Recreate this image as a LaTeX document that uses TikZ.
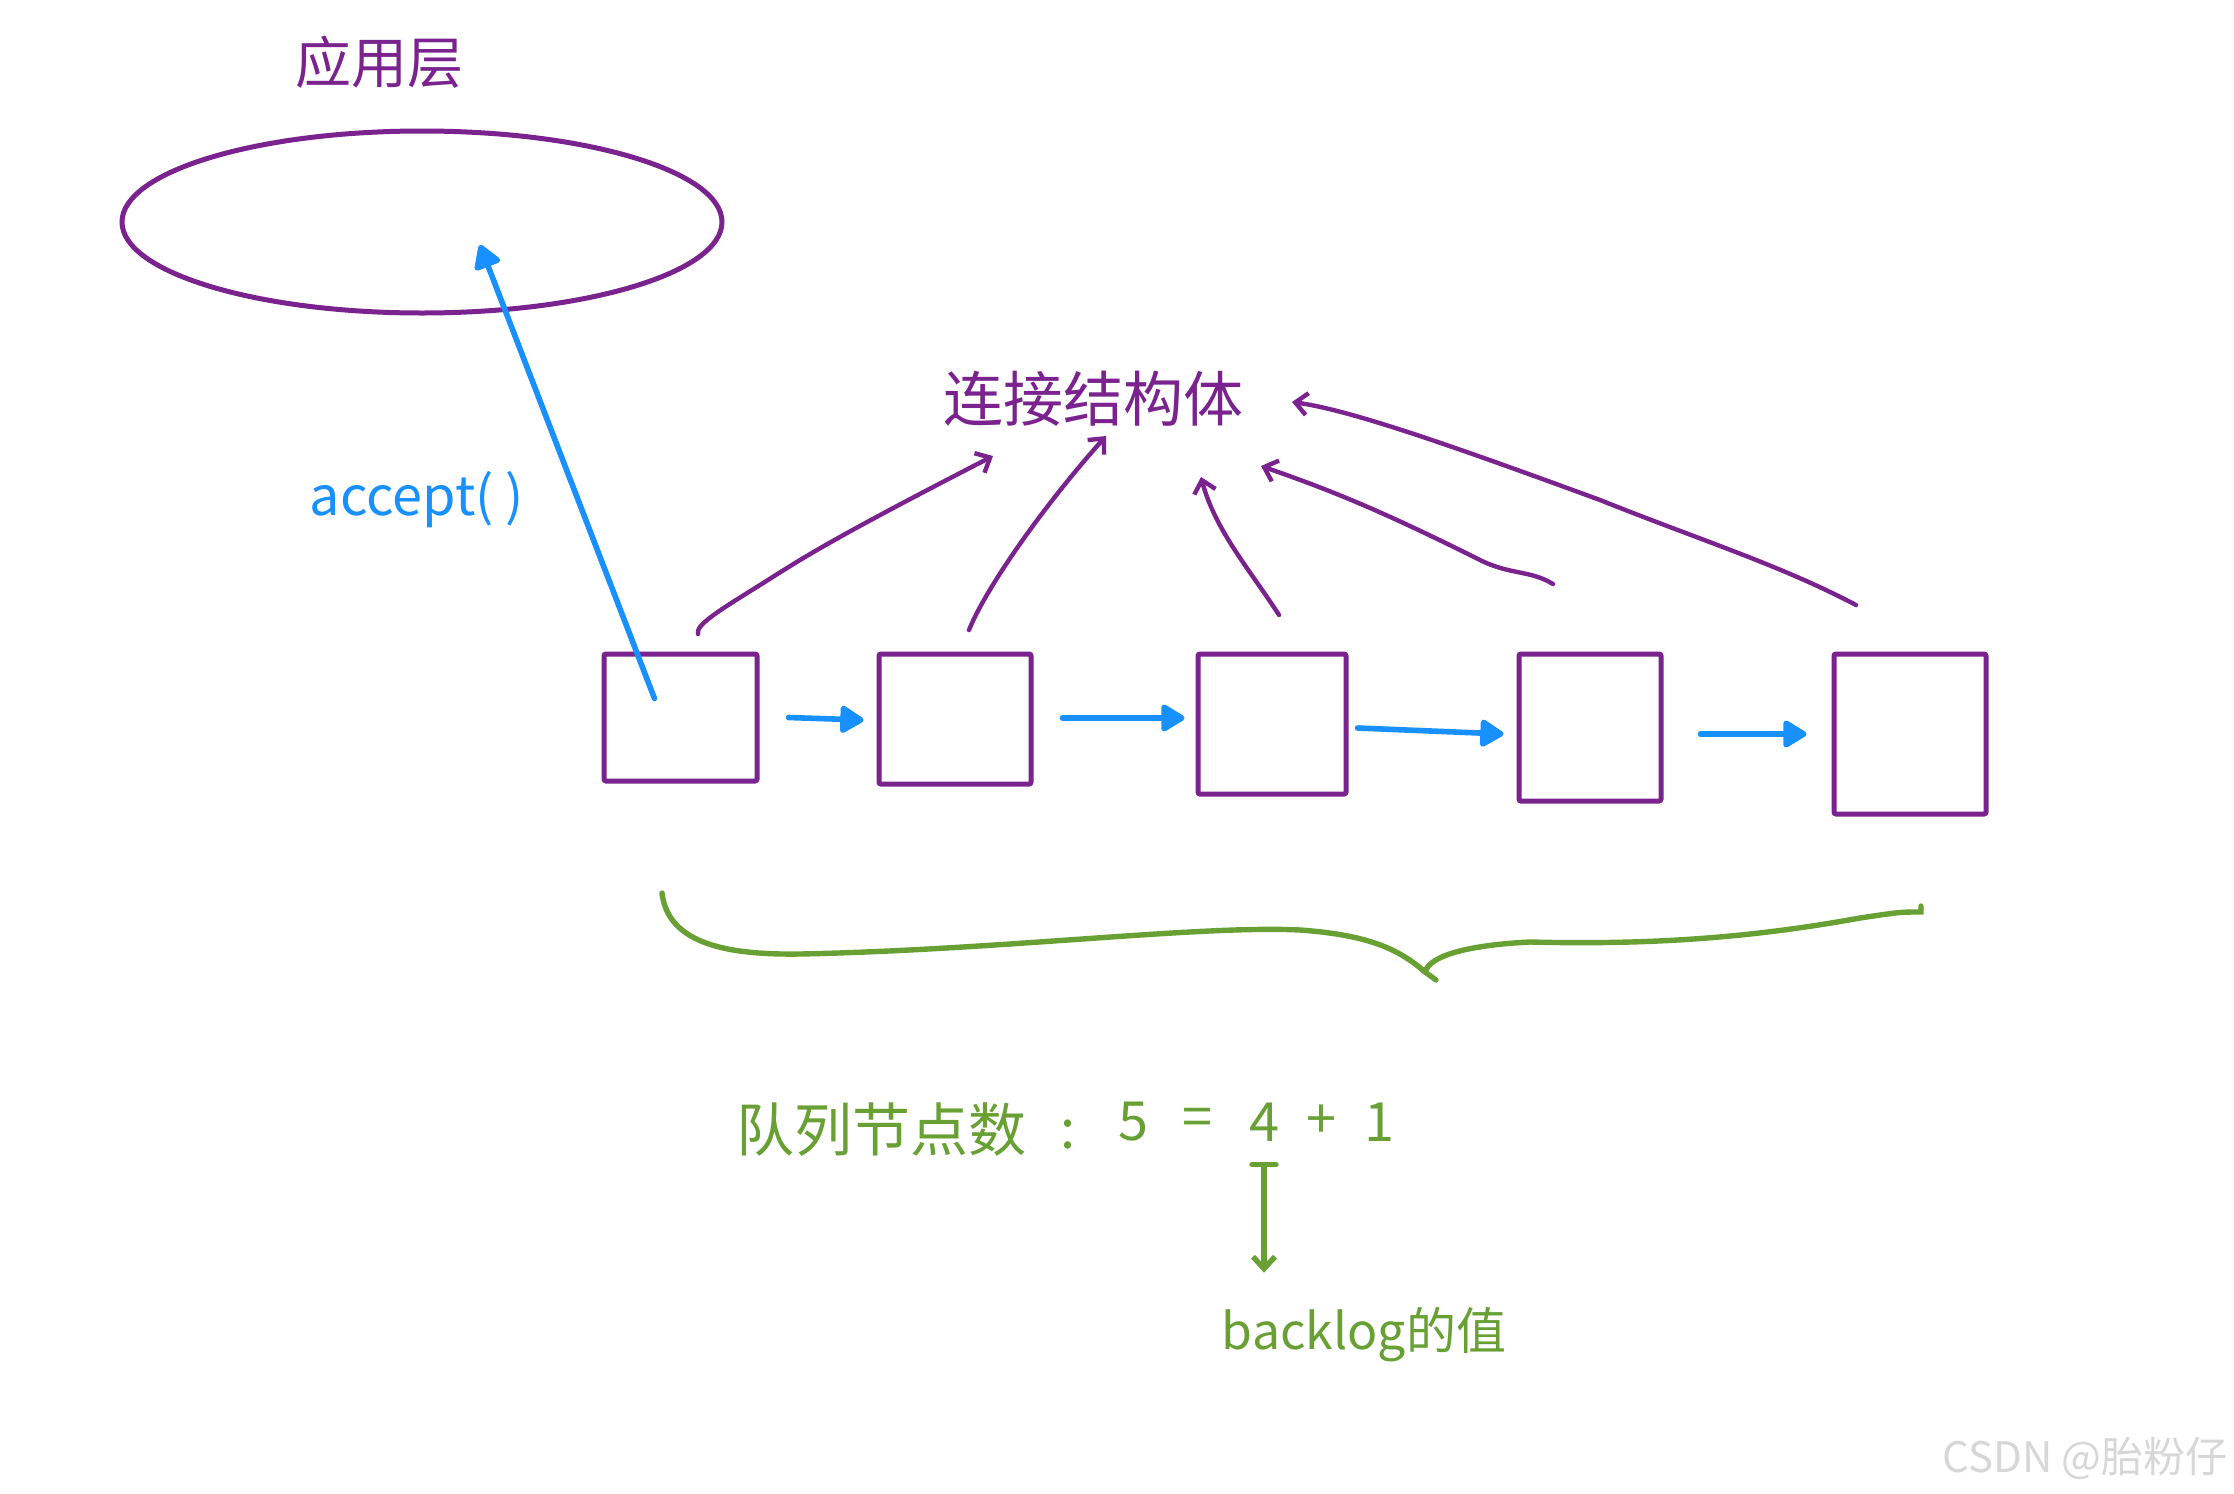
\documentclass[tikz,border=0pt]{standalone}
\usepackage{fontspec}
\newfontfamily\cjk{Noto Sans CJK SC}
\usetikzlibrary{arrows.meta,calc,shapes.geometric}
\definecolor{hpurple}{RGB}{122,34,142}
\definecolor{hblue}{RGB}{24,144,255}
\definecolor{hgreen}{RGB}{104,160,52}
\definecolor{wmgray}{RGB}{215,215,215}
\tikzset{
  qbox/.style={draw=hpurple,line width=2.5pt,inner sep=0pt,rounded corners=1pt},
  bluearrow/.style={draw=hblue,line width=2.8pt,line cap=round,-{Triangle[length=13pt,width=15pt,round]}},
  purplearrow/.style={draw=hpurple,line width=2.2pt,line cap=round,-{Straight Barb[length=6pt,width=11pt,line width=2.2pt]}},
  greenline/.style={draw=hgreen,line width=2.7pt,line cap=round},
  ptext/.style={text=hpurple,font=\cjk\fontsize{28pt}{32pt}\selectfont,inner sep=0pt},
  gtext/.style={text=hgreen,font=\cjk\fontsize{27pt}{32pt}\selectfont,inner sep=0pt},
  btext/.style={text=hblue,font=\cjk\fontsize{27pt}{30pt}\selectfont,inner sep=0pt},
}
\begin{document}
\begin{tikzpicture}[x=0.5pt,y=-0.5pt]
\useasboundingbox (0,0) rectangle (2234,1494);
% application layer
\node[ptext] (applabel) at (379,62) {应用层};
\node[draw=hpurple,line width=2.5pt,ellipse,minimum width=300pt,minimum height=91pt,inner sep=0pt] (app) at (422,222) {};
% connection struct label
\node[ptext,font=\cjk\fontsize{30pt}{34pt}\selectfont] (conn) at (1093,399) {连接结构体};
% queue boxes
\node[qbox,minimum width=76.5pt,minimum height=63.5pt] (b1) at (680.5,717.5) {};
\node[qbox,minimum width=76pt,minimum height=65pt] (b2) at (955,719) {};
\node[qbox,minimum width=74pt,minimum height=70pt] (b3) at (1272,724) {};
\node[qbox,minimum width=71pt,minimum height=73.5pt] (b4) at (1590,727.5) {};
\node[qbox,minimum width=76pt,minimum height=80pt] (b5) at (1910,734) {};
% blue arrows between boxes
\draw[bluearrow] ($(b1.east)+(29,0)$) -- ($(b2.west)+(-13,1)$);
\draw[bluearrow] ($(b2.east)+(29,-1)$) -- ($(b3.west)+(-11,-6)$);
\draw[bluearrow] ($(b3.east)+(9,4)$) -- ($(b4.west)+(-13,6.5)$);
\draw[bluearrow] ($(b4.east)+(37,6.5)$) -- ($(b5.west)+(-25,0)$);
% accept arrow
\node[btext] (acc) at (417,500) {accept( )};
\coordinate (accS) at ($(b1.center)+(-26,-19)$);
\coordinate (accE) at ($(app.center)+(58,23)$);
\draw[bluearrow] (accS) -- (accE);
% purple arrows to connection struct
\coordinate (p1s) at (698,634); \coordinate (p1e) at (993,456);
\coordinate (p2s) at (969,630); \coordinate (p2e) at (1106,436);
\coordinate (p3s) at (1279,615); \coordinate (p3e) at (1201,477);
\coordinate (p4s) at (1553,584); \coordinate (p4e) at (1261,466);
\coordinate (p5s) at (1856,605); \coordinate (p5e) at (1292,402);
\draw[purplearrow] (p1s) .. controls (695,625) and (720,610) .. (760,585) .. controls (800,560) and (820,545) .. (p1e);
\draw[purplearrow] (p2s) .. controls (985,590) and (1040,510) .. (p2e);
\draw[purplearrow] (p3s) .. controls (1250,570) and (1215,530) .. (p3e);
\draw[purplearrow] (p4s) .. controls (1530,570) and (1510,575) .. (1480,560) .. controls (1380,510) and (1330,490) .. (p4e);
\draw[purplearrow] (p5s) .. controls (1780,565) and (1700,540) .. (1600,500) .. controls (1450,445) and (1350,410) .. (p5e);
% green brace
\draw[greenline] (662,893) .. controls (668,945) and (730,955) .. (800,954) .. controls (1000,950) and (1200,925) .. (1300,930) .. controls (1370,935) and (1400,950) .. (1425,972) -- (1436,980);
\draw[greenline] (1425,972) .. controls (1430,955) and (1470,945) .. (1530,942) .. controls (1650,945) and (1750,938) .. (1860,918) .. controls (1900,912) .. (1921,912) -- (1921,906);
% queue count text
\node[gtext,font=\cjk\fontsize{29pt}{32pt}\selectfont] (qlabel) at (881,1130) {队列节点数};
\node[gtext] (colon) at (1068,1135) {:};
\node[gtext] (n5) at (1133,1122) {5};
\node[gtext] (eq) at (1197,1122) {=};
\node[gtext] (n4) at (1264,1122) {4};
\node[gtext] (plus) at (1321,1122) {+};
\node[gtext] (n1) at (1379,1122) {1};
\coordinate (tick) at ($(n4.south)+(0,23)$);
\draw[greenline] ($(tick)+(-12,0)$) -- ($(tick)+(12,0)$);
\draw[greenline,-{Straight Barb[length=6pt,width=11pt,line width=2.7pt]}] (tick) -- ($(tick)+(0,108)$) coordinate (tickend);
\node[gtext,font=\cjk\fontsize{25pt}{30pt}\selectfont] (backlog) at (1364,1335) {backlog的值};
% watermark
\node[text=wmgray,font=\cjk\fontsize{21pt}{24pt}\selectfont,anchor=east,inner sep=0pt] (wm) at (2228,1458) {CSDN @胎粉仔};
\end{tikzpicture}
\end{document}
